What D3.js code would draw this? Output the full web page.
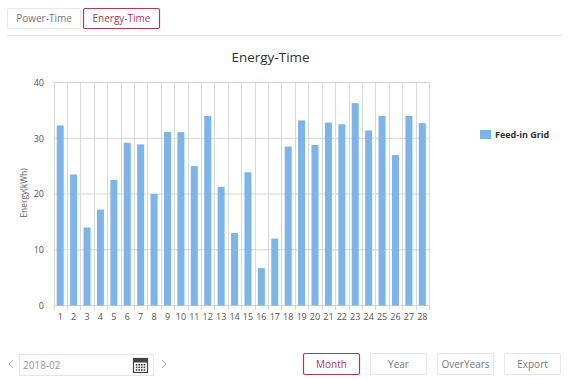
<!DOCTYPE html>
<html>
<head>
<meta charset="utf-8">
<script src="https://cdn.jsdelivr.net/npm/d3@7"></script>
<style>
html, body { margin: 0; padding: 0; background: #fff; overflow: hidden; }
text { font-family: "Open Sans", "Noto Sans", sans-serif; }
</style>
</head>
<body>
<svg id="chart" width="570" height="380"></svg>
<script>
// Datos de la gráfica
const days = [1,2,3,4,5,6,7,8,9,10,11,12,13,14,15,16,17,18,19,20,21,22,23,24,25,26,27,28];
const feedIn = [32.3,23.5,14,17.2,22.5,29.2,28.9,20,31.1,31.1,25,34,21.3,13,23.9,6.7,12,28.5,33.2,28.8,32.8,32.5,36.3,31.4,34,27,34,32.7];
const yTicks = [0,10,20,30,40];
const seriesName = 'Feed-in Grid';
const chartTitle = 'Energy-Time';
const yLabel = 'Energy(kWh)';
const tabs = [
    {label: 'Power-Time', x: 7, w: 73, active: false},
    {label: 'Energy-Time', x: 83, w: 76, active: true}
];
const buttons = [
    {label: 'Month', x: 303, w: 56, active: true},
    {label: 'Year', x: 370, w: 56, active: false},
    {label: 'OverYears', x: 437, w: 56, active: false},
    {label: 'Export', x: 504, w: 56, active: false}
];

const red = '#b5385a';
const svg = d3.select('#chart');

// Pestañas y botones
function drawButton(d, y, h, size) {
    svg.append('rect')
        .attr('x', d.x + 0.5).attr('y', y + 0.5)
        .attr('width', d.w).attr('height', h)
        .attr('rx', 1.5)
        .attr('fill', '#fff')
        .attr('stroke', d.active ? red : '#e8e8e8')
        .attr('stroke-width', d.active ? 1.2 : 1);
    svg.append('text')
        .attr('x', d.x + d.w / 2 + 0.5).attr('y', y + h / 2 + 4)
        .attr('text-anchor', 'middle')
        .attr('font-size', size)
        .attr('fill', d.active ? red : '#777')
        .text(d.label);
}
tabs.forEach(d => drawButton(d, 8, 20, 10));
buttons.forEach(d => drawButton(d, 353, 21, 10));

svg.append('line')
    .attr('x1', 7).attr('x2', 562).attr('y1', 35.5).attr('y2', 35.5)
    .attr('stroke', '#e6e6e6');

svg.append('text')
    .attr('x', 270.5).attr('y', 62)
    .attr('text-anchor', 'middle')
    .attr('font-size', 13.5)
    .attr('fill', '#333')
    .text(chartTitle);

// Escalas
const x = d3.scaleBand().domain(days).range([53.5, 429]);
const y = d3.scaleLinear().domain([0, 40]).range([305.5, 82.5]);

// Rejilla
svg.append('g').selectAll('line').data(yTicks).enter().append('line')
    .attr('x1', 53.5).attr('x2', 429)
    .attr('y1', d => y(d)).attr('y2', d => y(d))
    .attr('stroke', d => d === 0 ? '#c8d8e8' : '#d4d4d4');

svg.append('g').selectAll('line').data(days.concat(['end'])).enter().append('line')
    .attr('x1', d => Math.round(d === 'end' ? 429 : x(d)) + 0.5)
    .attr('x2', d => Math.round(d === 'end' ? 429 : x(d)) + 0.5)
    .attr('y1', 82.5).attr('y2', 310)
    .attr('stroke', '#d9d9d9');

// Barras
svg.append('g').selectAll('rect').data(feedIn).enter().append('rect')
    .attr('x', (d, i) => x(days[i]) + x.bandwidth() / 2 - 3.5)
    .attr('y', d => y(d))
    .attr('width', 7)
    .attr('height', d => y(0) - y(d))
    .attr('fill', '#7cb5ec');

// Ejes
const xAxis = svg.append('g')
    .attr('transform', 'translate(0,311)')
    .call(d3.axisBottom(x).tickSize(0).tickPadding(3));
xAxis.select('.domain').remove();
xAxis.selectAll('text').attr('font-size', 9).attr('fill', '#555').attr('font-family', '"Open Sans", sans-serif');

const yAxis = svg.append('g')
    .attr('transform', 'translate(47,0)')
    .call(d3.axisLeft(y).tickValues(yTicks).tickSize(0).tickPadding(3));
yAxis.select('.domain').remove();
yAxis.selectAll('text').attr('font-size', 9).attr('fill', '#555').attr('font-family', '"Open Sans", sans-serif');

svg.append('text')
    .attr('transform', 'translate(27,193) rotate(-90)')
    .attr('text-anchor', 'middle')
    .attr('font-size', 8.5)
    .attr('fill', '#666')
    .text(yLabel);

// Leyenda
svg.append('rect')
    .attr('x', 480).attr('y', 130).attr('width', 11).attr('height', 9)
    .attr('fill', '#7cb5ec');
svg.append('text')
    .attr('x', 495).attr('y', 138)
    .attr('font-size', 9)
    .attr('font-weight', 'bold')
    .attr('fill', '#333')
    .text(seriesName);

// Selector de fecha
svg.append('rect')
    .attr('x', 19.5).attr('y', 354.5).attr('width', 134).attr('height', 21)
    .attr('fill', '#fff').attr('stroke', '#e6e6e6');
svg.append('text')
    .attr('x', 23).attr('y', 369)
    .attr('font-size', 10)
    .attr('fill', '#999')
    .text('2018-02');
svg.append('path').attr('d', 'M13 360l-4 4 4 4').attr('fill', 'none').attr('stroke', '#aaa');
svg.append('path').attr('d', 'M162 360l4 4-4 4').attr('fill', 'none').attr('stroke', '#aaa');

// Icono de calendario
const cal = svg.append('g').attr('transform', 'translate(133,357)');
cal.append('rect').attr('x', 0.5).attr('y', 1.5).attr('width', 14).attr('height', 14).attr('fill', '#fff').attr('stroke', '#444').attr('stroke-width', 1.2);
cal.append('rect').attr('x', 0.5).attr('y', 1.5).attr('width', 14).attr('height', 4).attr('fill', '#444');
cal.append('g').selectAll('rect').data(d3.range(12)).enter().append('rect')
    .attr('x', d => 2.8 + (d % 4) * 2.6)
    .attr('y', d => 7 + Math.floor(d / 4) * 2.6)
    .attr('width', 1.6).attr('height', 1.6)
    .attr('fill', '#444');
</script>
</body>
</html>
